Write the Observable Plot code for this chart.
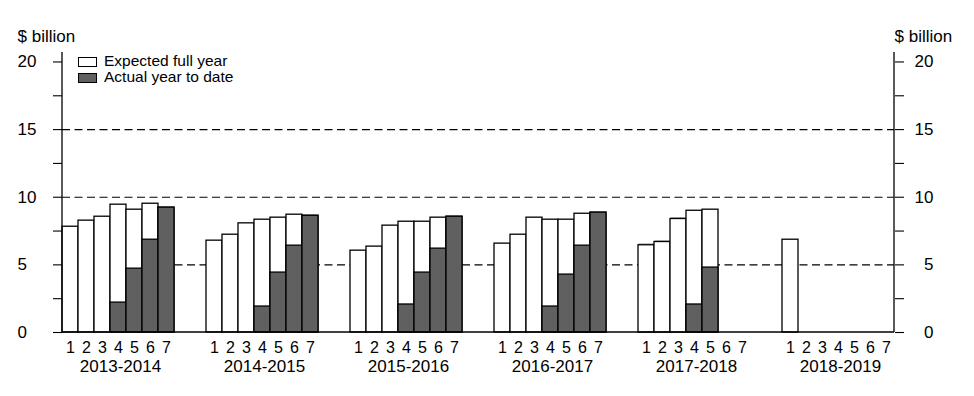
<!DOCTYPE html>
<html>
<head>
<meta charset="utf-8">
<script src="https://cdn.jsdelivr.net/npm/d3@7"></script>
<script src="https://cdn.jsdelivr.net/npm/@observablehq/plot@0.6"></script>
<style>
  html, body { margin: 0; padding: 0; background: #fff; }
  #wrap { position: relative; width: 974px; height: 396px; font-family: "Liberation Sans", Arial, sans-serif; }
  .lg { position: absolute; font-size: 14.5px; color: #000; line-height: 15px; height: 15px; white-space: nowrap; transform: scaleX(1.07); transform-origin: 0 50%; }
  .box { position: absolute; width: 17px; height: 8px; border: 1px solid #000; box-sizing: content-box; }
</style>
</head>
<body>
<div id="wrap"></div>
<script>
const groups = ["2013-2014", "2014-2015", "2015-2016", "2016-2017", "2017-2018", "2018-2019"];
const slots = [1, 2, 3, 4, 5, 6, 7];
const expected = [
  [7.82, 8.27, 8.56, 9.45, 9.08, 9.52, 9.23],
  [6.79, 7.23, 8.07, 8.34, 8.49, 8.71, 8.63],
  [6.05, 6.35, 7.90, 8.19, 8.19, 8.49, 8.56],
  [6.57, 7.23, 8.49, 8.34, 8.34, 8.78, 8.86],
  [6.45, 6.69, 8.39, 9.00, 9.08, null, null],
  [6.86, null, null, null, null, null, null]
];
const actual = [
  [null, null, null, 2.21, 4.72, 6.86, 9.23],
  [null, null, null, 1.92, 4.43, 6.42, 8.63],
  [null, null, null, 2.07, 4.43, 6.20, 8.56],
  [null, null, null, 1.92, 4.28, 6.42, 8.86],
  [null, null, null, 2.07, 4.80, null, null],
  [null, null, null, null, null, null, null]
];
// faint grey outline visible on the first three 2017-2018 bars
const greyOutline2017 = [6.50, 6.73, 8.44];
const yTicks = [0, 2.5, 5, 7.5, 10, 12.5, 15, 17.5, 20];
const yLabels = [0, 5, 10, 15, 20];
const gridLines = [5, 10, 15];
const legendItems = ["Expected full year", "Actual year to date"];

// band domain: 7 slots per year plus 2 empty spacer slots between years
const domain = [];
groups.forEach((g, gi) => {
  slots.forEach(s => domain.push(g + "|" + s));
  if (gi < groups.length - 1) { domain.push(g + "|gapA"); domain.push(g + "|gapB"); }
});

const expRows = [], actRows = [], slotRows = [], greyRows = [];
groups.forEach((g, gi) => {
  slots.forEach((s, si) => {
    const key = g + "|" + s;
    slotRows.push({key, slot: s});
    if (expected[gi][si] != null) expRows.push({key, v: expected[gi][si]});
    if (actual[gi][si] != null) actRows.push({key, v: actual[gi][si]});
  });
});
greyOutline2017.forEach((v, i) => greyRows.push({key: groups[4] + "|" + slots[i], v}));
const groupRows = groups.map(g => ({key: g + "|4", label: g}));

const FONT = "Liberation Sans, Arial, sans-serif";

const axisLines = (index, scales, values, dims) => {
  const g = d3.create("svg:g");
  const y0 = scales.y(0), yTop = scales.y(20.7);
  const xl = dims.marginLeft, xr = dims.width - dims.marginRight;
  g.append("line").attr("x1", xl).attr("x2", xl).attr("y1", y0).attr("y2", yTop).attr("stroke", "#000").attr("stroke-width", 1.3);
  g.append("line").attr("x1", xr).attr("x2", xr).attr("y1", y0).attr("y2", yTop).attr("stroke", "#000").attr("stroke-width", 1.3);
  g.append("line").attr("x1", xl).attr("x2", xr).attr("y1", y0).attr("y2", y0).attr("stroke", "#000").attr("stroke-width", 1.3);
  return g.node();
};

const chart = Plot.plot({
  width: 974,
  height: 396,
  marginLeft: 62,
  marginRight: 80,
  marginTop: 52,
  marginBottom: 64,
  style: {fontFamily: FONT, fontSize: "17px", color: "#000", background: "#fff"},
  x: {type: "band", domain, padding: 0, axis: null},
  y: {domain: [0, 20.7], axis: null},
  marks: [
    Plot.ruleY(gridLines, {y: d => d, stroke: "#000", strokeWidth: 1.1, strokeDasharray: "8,4.5"}),
    Plot.barY(greyRows, {x: "key", y: "v", fill: "none", stroke: "#9a9a9a", strokeWidth: 1.3, inset: 0, dx: 1}),
    Plot.barY(expRows, {x: "key", y: "v", fill: "#fff", stroke: "#000", strokeWidth: 1.3, inset: 0}),
    Plot.barY(actRows, {x: "key", y: "v", fill: "#606060", stroke: "#000", strokeWidth: 1.3, inset: 0}),
    Plot.axisY({anchor: "left", ticks: yTicks, tickSize: 9, tickFormat: () => "", label: null, stroke: "#000", strokeWidth: 1.1}),
    Plot.axisY({anchor: "right", ticks: yTicks, tickSize: 9, tickFormat: () => "", label: null, stroke: "#000", strokeWidth: 1.1}),
    axisLines,
    Plot.text(yLabels, {y: d => d, text: d => String(d), frameAnchor: "left", dx: -45, textAnchor: "start", fontSize: 17, fill: "#000"}),
    Plot.text(yLabels, {y: d => d, text: d => String(d), frameAnchor: "right", dx: 39, textAnchor: "end", fontSize: 17, fill: "#000"}),
    Plot.text(slotRows, {x: "key", text: d => String(d.slot), frameAnchor: "bottom", dy: 15, lineAnchor: "middle", fontSize: 16, fill: "#000"}),
    Plot.text(groupRows, {x: "key", text: "label", frameAnchor: "bottom", dy: 34, dx: 2, lineAnchor: "middle", fontSize: 17, fill: "#000"}),
    Plot.text(["$ billion"], {text: d => d, frameAnchor: "top-left", dx: -45, dy: -16, textAnchor: "start", lineAnchor: "middle", fontSize: 17, fill: "#000"}),
    Plot.text(["$ billion"], {text: d => d, frameAnchor: "top-right", dx: 0, dy: -16, textAnchor: "start", lineAnchor: "middle", fontSize: 17, fill: "#000"})
  ]
});

const wrap = document.getElementById("wrap");
wrap.appendChild(chart);

// legend
const fills = ["#fff", "#606060"];
legendItems.forEach((t, i) => {
  const b = document.createElement("div");
  b.className = "box";
  b.style.left = "78px";
  b.style.top = (56.5 + i * 16.5) + "px";
  b.style.background = fills[i];
  wrap.appendChild(b);
  const s = document.createElement("div");
  s.className = "lg";
  s.textContent = t;
  s.style.left = "104px";
  s.style.top = (53.5 + i * 16.5) + "px";
  wrap.appendChild(s);
});
</script>
</body>
</html>
